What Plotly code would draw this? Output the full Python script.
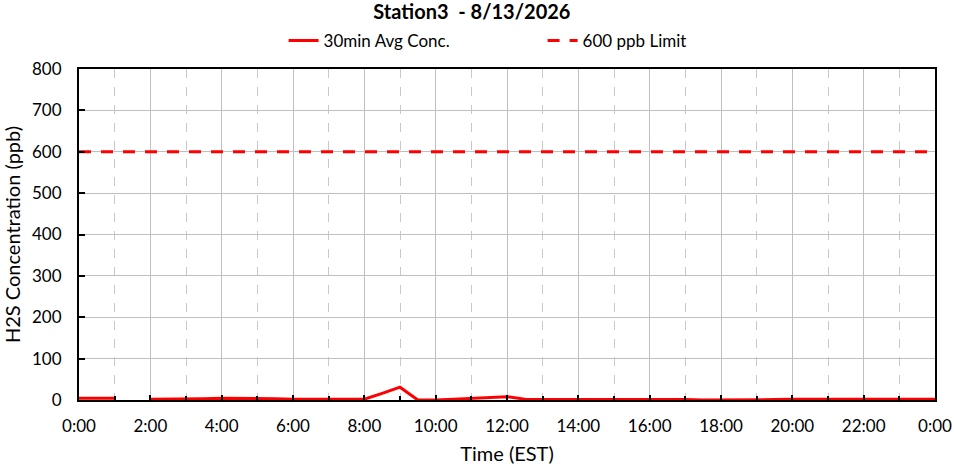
import plotly.graph_objects as go

# 30-min averages, hours from midnight (None = missing reading)
hours = [i * 0.5 for i in range(49)]
conc_ppb = [
    4, 4, 4, None, 2, 2, 2, 3, 4, 4,
    4, 3, 2, 2, 1, 1, 2, 16, 31, 0,
    0, 2, 4, 7, 8, 2, 2, 2, 2, 2,
    2, 2, 2, 2, 1, 0, 0, 0, 0, 1,
    2, 2, 2, 2, 2, 2, 2, 2, 2,
]
limit_x = [0, 24]
limit_ppb = [600, 600]

tick_vals = list(range(0, 25, 2))
tick_text = [f"{h % 24}:00" for h in tick_vals]

font = "Lato, Open Sans, sans-serif"

fig = go.Figure()
fig.add_trace(go.Scatter(
    x=hours, y=conc_ppb, mode="lines", name="30min Avg Conc.",
    line=dict(color="#ff0000", width=3), connectgaps=False,
))
fig.add_trace(go.Scatter(
    x=limit_x, y=limit_ppb, mode="lines", name="600 ppb Limit",
    line=dict(color="#ff0000", width=3, dash="12px,10px"),
))

fig.update_layout(
    width=954, height=468,
    margin=dict(l=79, r=19, t=69, b=68, autoexpand=False),
    paper_bgcolor="white", plot_bgcolor="white",
    font=dict(family=font, size=17, color="black"),
    title=dict(text="<b>Station3  - 8/13/2026</b>", x=0.459, xanchor="center", xref="paper",
               yref="container", y=0.99, yanchor="top", font=dict(size=20)),
    legend=dict(orientation="h", x=0.239, xanchor="left", y=1.085, yanchor="middle",
                font=dict(size=17), tracegroupgap=0,
                entrywidthmode="pixels", entrywidth=214),
    showlegend=True,
)
fig.update_xaxes(
    range=[0, 24], tickvals=tick_vals, ticktext=tick_text,
    showline=True, linecolor="black", linewidth=2, mirror=True,
    showgrid=True, gridcolor="#bfbfbf", gridwidth=1,
    ticks="inside", ticklen=5, tickcolor="black", tickwidth=2,
    ticklabelstandoff=10,
    minor=dict(dtick=1, tick0=1, showgrid=True, gridcolor="#c8c8c8", griddash="dash",
               ticks="inside", ticklen=4, tickcolor="black", tickwidth=2),
    title=dict(text="Time (EST)", font=dict(size=20), standoff=12),
    zeroline=False,
)
fig.update_yaxes(
    range=[0, 800], dtick=100,
    showline=True, linecolor="black", linewidth=2, mirror=True,
    showgrid=True, gridcolor="#bfbfbf", gridwidth=1,
    ticks="inside", ticklen=6, tickcolor="black", tickwidth=2,
    ticklabelstandoff=12,
    title=dict(text="H2S Concentration (ppb)", font=dict(size=20), standoff=10),
    zeroline=False,
)

# drop the browser's default page margin so the chart sits at the window's corner
fig.write_html("out.html", config={"displayModeBar": False},
               post_script="document.body.style.margin = '0';")
